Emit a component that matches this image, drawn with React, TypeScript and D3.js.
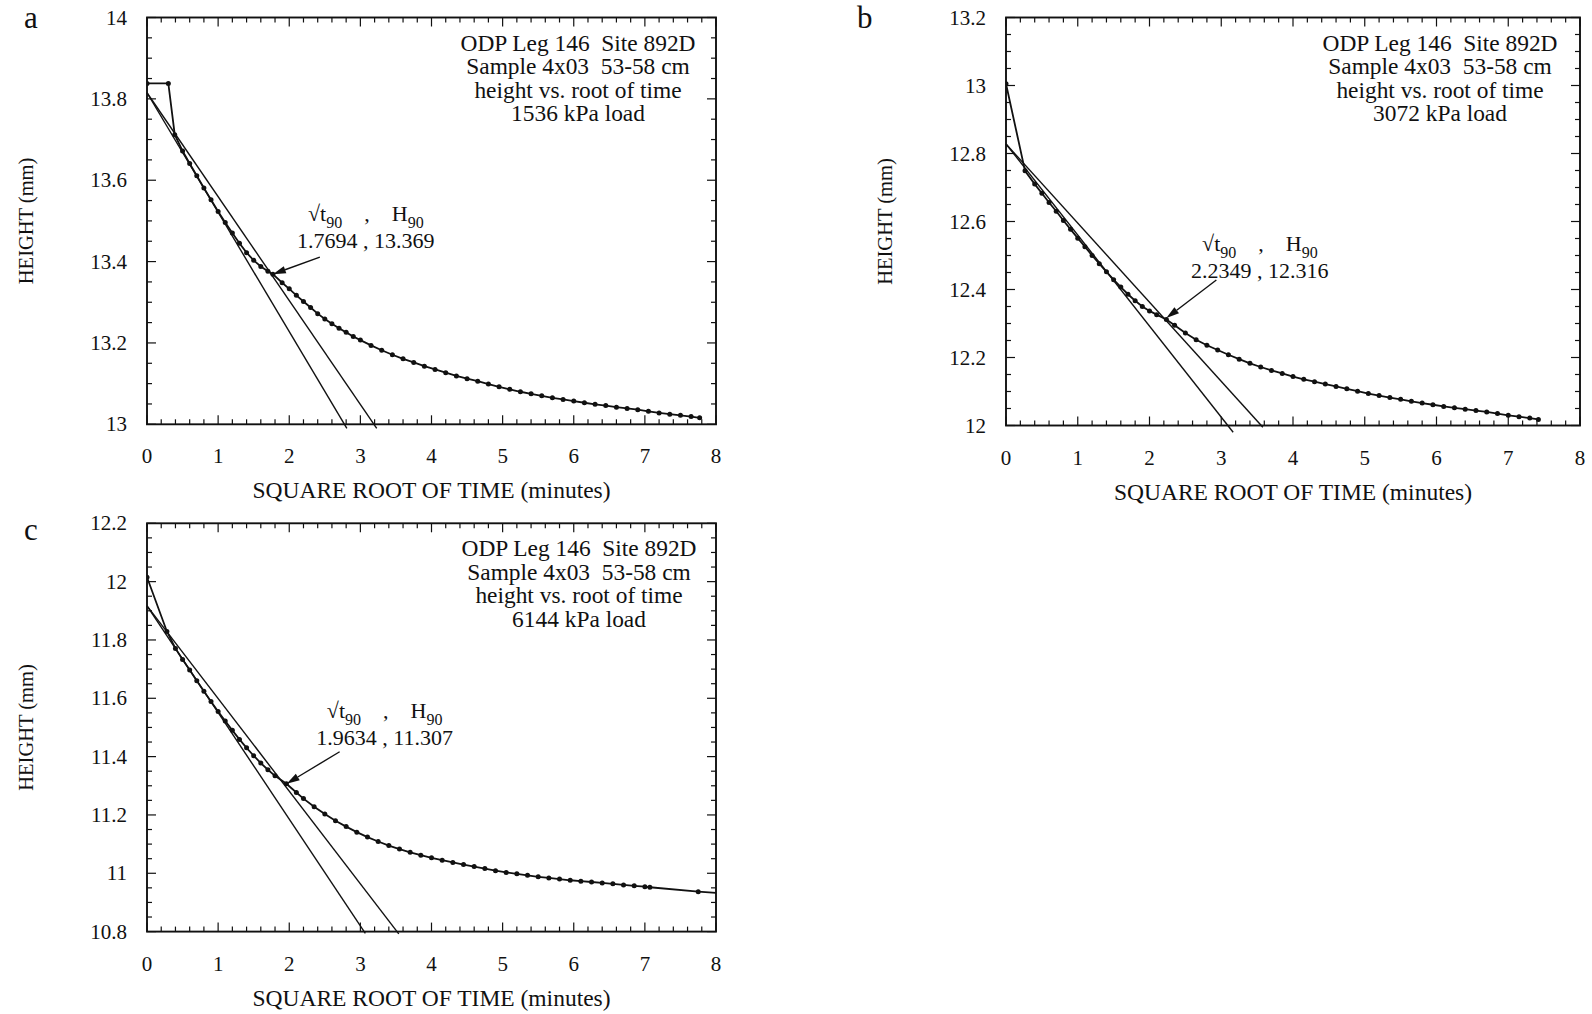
import React from "react";
import * as d3 from "d3";

// ---------- shared axis data ----------
const xTickValues = [0, 1, 2, 3, 4, 5, 6, 7, 8];
const xTickLabels = ["0", "1", "2", "3", "4", "5", "6", "7", "8"];
const infoCommon = ["ODP Leg 146  Site 892D", "Sample 4x03  53-58 cm", "height vs. root of time"];

// ---------- panel a ----------
const aYTickValues = [13, 13.2, 13.4, 13.6, 13.8, 14];
const aYTickLabels = ["13", "13.2", "13.4", "13.6", "13.8", "14"];
const aX = [0, 0.3, 0.39, 0.5, 0.6, 0.7, 0.8, 0.9, 1.0, 1.1, 1.2, 1.3, 1.4, 1.5, 1.6, 1.7, 1.77, 1.9, 2.0, 2.1, 2.2, 2.3, 2.4, 2.5, 2.6, 2.7, 2.8, 2.9, 3.0, 3.15, 3.3, 3.45, 3.6, 3.75, 3.9, 4.05, 4.2, 4.35, 4.5, 4.65, 4.8, 4.95, 5.1, 5.25, 5.4, 5.55, 5.7, 5.85, 6.0, 6.15, 6.3, 6.45, 6.6, 6.75, 6.9, 7.05, 7.2, 7.35, 7.5, 7.65, 7.77];
const aY = [13.838, 13.838, 13.712, 13.672, 13.641, 13.611, 13.581, 13.552, 13.523, 13.496, 13.47, 13.445, 13.422, 13.403, 13.388, 13.376, 13.369, 13.348, 13.333, 13.317, 13.302, 13.287, 13.272, 13.259, 13.247, 13.236, 13.226, 13.216, 13.207, 13.194, 13.182, 13.171, 13.161, 13.152, 13.143, 13.135, 13.127, 13.119, 13.112, 13.106, 13.099, 13.092, 13.086, 13.08, 13.075, 13.07, 13.065, 13.061, 13.057, 13.053, 13.049, 13.046, 13.042, 13.039, 13.036, 13.032, 13.028, 13.025, 13.022, 13.019, 13.016];
const aFit1 = [[0, 13.815], [2.81, 12.99]];
const aFit2 = [[0, 13.815], [3.23, 12.99]];
const aH90 = [1.7694, 13.369];
const aH90Text = "1.7694 , 13.369";
const aInfo = [...infoCommon, "1536 kPa load"];

// ---------- panel b ----------
const bYTickValues = [12, 12.2, 12.4, 12.6, 12.8, 13, 13.2];
const bYTickLabels = ["12", "12.2", "12.4", "12.6", "12.8", "13", "13.2"];
const bX = [0, 0.265, 0.4, 0.5, 0.6, 0.7, 0.8, 0.9, 1.0, 1.1, 1.2, 1.3, 1.4, 1.5, 1.6, 1.7, 1.8, 1.9, 2.0, 2.1, 2.235, 2.35, 2.5, 2.65, 2.8, 2.95, 3.1, 3.25, 3.4, 3.55, 3.7, 3.85, 4.0, 4.15, 4.3, 4.45, 4.6, 4.75, 4.9, 5.05, 5.2, 5.35, 5.5, 5.65, 5.8, 5.95, 6.1, 6.25, 6.4, 6.55, 6.7, 6.85, 7.0, 7.15, 7.3, 7.42];
const bY = [13.005, 12.749, 12.71, 12.683, 12.656, 12.63, 12.603, 12.577, 12.551, 12.526, 12.5, 12.476, 12.452, 12.429, 12.407, 12.386, 12.367, 12.35, 12.337, 12.326, 12.312, 12.295, 12.272, 12.252, 12.236, 12.222, 12.208, 12.195, 12.183, 12.172, 12.162, 12.153, 12.144, 12.136, 12.129, 12.122, 12.115, 12.108, 12.101, 12.094, 12.088, 12.082, 12.077, 12.071, 12.066, 12.061, 12.056, 12.052, 12.048, 12.044, 12.04, 12.035, 12.03, 12.026, 12.022, 12.018];
const bFit1 = [[0, 12.828], [3.166, 11.98]];
const bFit2 = [[0, 12.828], [3.58, 11.995]];
const bH90 = [2.2349, 12.316];
const bH90Text = "2.2349 , 12.316";
const bInfo = [...infoCommon, "3072 kPa load"];

// ---------- panel c ----------
const cYTickValues = [10.8, 11, 11.2, 11.4, 11.6, 11.8, 12, 12.2];
const cYTickLabels = ["10.8", "11", "11.2", "11.4", "11.6", "11.8", "12", "12.2"];
const cX = [0, 0.28, 0.4, 0.5, 0.6, 0.7, 0.8, 0.9, 1.0, 1.1, 1.2, 1.3, 1.4, 1.5, 1.6, 1.7, 1.8, 1.96, 2.1, 2.2, 2.35, 2.5, 2.65, 2.8, 2.95, 3.1, 3.25, 3.4, 3.55, 3.7, 3.85, 4.0, 4.15, 4.3, 4.45, 4.6, 4.75, 4.9, 5.05, 5.2, 5.35, 5.5, 5.65, 5.8, 5.95, 6.1, 6.25, 6.4, 6.55, 6.7, 6.85, 7.0, 7.07, 7.75, 8.2];
const cY = [12.015, 11.829, 11.771, 11.733, 11.697, 11.66, 11.624, 11.589, 11.555, 11.522, 11.49, 11.459, 11.43, 11.403, 11.378, 11.355, 11.334, 11.307, 11.277, 11.256, 11.228, 11.203, 11.18, 11.16, 11.141, 11.124, 11.109, 11.095, 11.083, 11.072, 11.062, 11.053, 11.045, 11.037, 11.03, 11.023, 11.016, 11.009, 11.003, 10.998, 10.993, 10.988, 10.984, 10.98, 10.976, 10.973, 10.97, 10.967, 10.964, 10.96, 10.957, 10.954, 10.952, 10.937, 10.93];
const cFit1 = [[0, 11.917], [3.07, 10.794]];
const cFit2 = [[0, 11.917], [3.54, 10.792]];
const cH90 = [1.9634, 11.307];
const cH90Text = "1.9634 , 11.307";
const cInfo = [...infoCommon, "6144 kPa load"];

const FONT = "'Liberation Serif', 'DejaVu Serif', serif";

type Cfg = {
  id: string;
  letter: string;
  letterX: number;
  letterY: number;
  left: number;
  right: number;
  top: number;
  bottom: number;
  yDomain: [number, number];
  yTickValues: number[];
  yTickLabels: string[];
  xs: number[];
  ys: number[];
  fit1: number[][];
  fit2: number[][];
  h90: number[];
  h90Text: string;
  info: string[];
  infoDx: number;
  labelDx: number;
  labelDy: number;
  tailDx: number;
  tailDy: number;
};

function Panel({ cfg }: { cfg: Cfg }) {
  const x = d3.scaleLinear().domain([0, 8]).range([cfg.left, cfg.right]);
  const y = d3.scaleLinear().domain(cfg.yDomain).range([cfg.bottom, cfg.top]);
  const pts = cfg.xs.map((v, i) => [v, cfg.ys[i]] as [number, number]);
  const line = d3
    .line<[number, number]>()
    .x((d) => x(d[0]))
    .y((d) => y(d[1]));

  const xMinor = d3.range(0, 8.0001, 0.2);
  const yMinor = d3.range(cfg.yDomain[0], cfg.yDomain[1] + 1e-6, 0.05);
  const isXMajor = (v: number) => Math.abs(v - Math.round(v)) < 1e-6;
  const isYMajor = (v: number) => cfg.yTickValues.some((t) => Math.abs(t - v) < 1e-6);
  const MAJ = 9;
  const MIN = 5;

  const tipX = x(cfg.h90[0]);
  const tipY = y(cfg.h90[1]);
  const tailX = tipX + cfg.tailDx;
  const tailY = tipY + cfg.tailDy;
  const ang = Math.atan2(tipY - tailY, tipX - tailX);
  const hl = 13;
  const hw = 3.8;
  const bx = tipX - hl * Math.cos(ang);
  const by = tipY - hl * Math.sin(ang);
  const head = [
    [tipX, tipY],
    [bx + hw * Math.sin(ang), by - hw * Math.cos(ang)],
    [bx - hw * Math.sin(ang), by + hw * Math.cos(ang)],
  ]
    .map((p) => p.join(","))
    .join(" ");

  const lblX = tipX + cfg.labelDx;
  const lbl2Y = tipY + cfg.labelDy;
  const lbl1Y = lbl2Y - 27;
  const midX = (cfg.left + cfg.right) / 2;
  const midY = (cfg.top + cfg.bottom) / 2;
  const infoX = cfg.right + cfg.infoDx;

  return (
    <g fontFamily={FONT} fill="#111">
      <defs>
        <clipPath id={`clip-${cfg.id}`}>
          <rect x={cfg.left} y={cfg.top - 2} width={cfg.right - cfg.left} height={cfg.bottom - cfg.top + 8} />
        </clipPath>
      </defs>
      {/* panel letter */}
      <text x={cfg.letterX} y={cfg.letterY} fontSize={31}>
        {cfg.letter}
      </text>
      {/* ticks */}
      <g stroke="#111" strokeWidth={1.2}>
        {xMinor.map((v, i) => {
          const l = isXMajor(v) ? MAJ : MIN;
          return (
            <g key={"xt" + i}>
              <line x1={x(v)} x2={x(v)} y1={cfg.bottom} y2={cfg.bottom - l} />
              <line x1={x(v)} x2={x(v)} y1={cfg.top} y2={cfg.top + l} />
            </g>
          );
        })}
        {yMinor.map((v, i) => {
          const l = isYMajor(v) ? MAJ : MIN;
          return (
            <g key={"yt" + i}>
              <line x1={cfg.left} x2={cfg.left + l} y1={y(v)} y2={y(v)} />
              <line x1={cfg.right} x2={cfg.right - l} y1={y(v)} y2={y(v)} />
            </g>
          );
        })}
      </g>
      <rect
        x={cfg.left}
        y={cfg.top}
        width={cfg.right - cfg.left}
        height={cfg.bottom - cfg.top}
        fill="none"
        stroke="#111"
        strokeWidth={1.9}
      />
      {/* tick labels */}
      {xTickValues.map((v, i) => (
        <text key={"xl" + i} x={x(v)} y={cfg.bottom + 39} fontSize={21} textAnchor="middle">
          {xTickLabels[i]}
        </text>
      ))}
      {cfg.yTickValues.map((v, i) => (
        <text key={"yl" + i} x={cfg.left - 20} y={y(v)} dy="0.34em" fontSize={21} textAnchor="end">
          {cfg.yTickLabels[i]}
        </text>
      ))}
      {/* axis titles */}
      <text x={midX} y={cfg.bottom + 74} fontSize={23.5} textAnchor="middle">
        SQUARE ROOT OF TIME (minutes)
      </text>
      <text
        transform={`translate(${cfg.left - 114},${midY}) rotate(-90)`}
        fontSize={20.5}
        textAnchor="middle"
      >
        HEIGHT (mm)
      </text>
      {/* fit lines */}
      <g stroke="#111" strokeWidth={1.4} fill="none">
        <path d={line(cfg.fit1 as [number, number][]) || ""} />
        <path d={line(cfg.fit2 as [number, number][]) || ""} />
      </g>
      {/* data */}
      <g clipPath={`url(#clip-${cfg.id})`}>
        <path d={line(pts) || ""} fill="none" stroke="#111" strokeWidth={1.8} />
        {pts.map((p, i) => (
          <circle key={"p" + i} cx={x(p[0])} cy={y(p[1])} r={2.5} fill="#111" />
        ))}
      </g>
      {/* H90 annotation */}
      <line x1={tailX} y1={tailY} x2={bx} y2={by} stroke="#111" strokeWidth={1.4} />
      <polygon points={head} fill="#111" />
      <text x={lblX} y={lbl1Y} fontSize={22} textAnchor="middle" style={{ whiteSpace: "pre" }}>
        √t
        <tspan fontSize={16} dy={7}>
          90
        </tspan>
        <tspan dy={-7}>{"    ,    "}</tspan>H
        <tspan fontSize={16} dy={7}>
          90
        </tspan>
      </text>
      <text x={lblX} y={lbl2Y} fontSize={22} textAnchor="middle" style={{ whiteSpace: "pre" }}>
        {cfg.h90Text}
      </text>
      {/* info block */}
      {cfg.info.map((s, i) => (
        <text
          key={"inf" + i}
          x={infoX}
          y={cfg.top + 33 + i * 23.5}
          fontSize={23.4}
          textAnchor="middle"
          style={{ whiteSpace: "pre" }}
        >
          {s}
        </text>
      ))}
    </g>
  );
}

const panels: Cfg[] = [
  {
    id: "a",
    letter: "a",
    letterX: 24,
    letterY: 28,
    left: 147,
    right: 716,
    top: 17.5,
    bottom: 424.3,
    yDomain: [13, 14],
    yTickValues: aYTickValues,
    yTickLabels: aYTickLabels,
    xs: aX,
    ys: aY,
    fit1: aFit1,
    fit2: aFit2,
    h90: aH90,
    h90Text: aH90Text,
    info: aInfo,
    infoDx: -138,
    labelDx: 93,
    labelDy: -25.7,
    tailDx: 47,
    tailDy: -17,
  },
  {
    id: "b",
    letter: "b",
    letterX: 857,
    letterY: 28,
    left: 1006,
    right: 1580,
    top: 17.5,
    bottom: 425.5,
    yDomain: [12, 13.2],
    yTickValues: bYTickValues,
    yTickLabels: bYTickLabels,
    xs: bX,
    ys: bY,
    fit1: bFit1,
    fit2: bFit2,
    h90: bH90,
    h90Text: bH90Text,
    info: bInfo,
    infoDx: -140,
    labelDx: 93.5,
    labelDy: -40,
    tailDx: 50,
    tailDy: -38,
  },
  {
    id: "c",
    letter: "c",
    letterX: 24,
    letterY: 540,
    left: 147,
    right: 716,
    top: 523.3,
    bottom: 931.6,
    yDomain: [10.8, 12.2],
    yTickValues: cYTickValues,
    yTickLabels: cYTickLabels,
    xs: cX,
    ys: cY,
    fit1: cFit1,
    fit2: cFit2,
    h90: cH90,
    h90Text: cH90Text,
    info: cInfo,
    infoDx: -137,
    labelDx: 98,
    labelDy: -38.8,
    tailDx: 53,
    tailDy: -32,
  },
];

export default function App() {
  return (
    <svg
      width={1592}
      height={1014}
      style={{ position: "absolute", left: 0, top: 0, background: "#fff" }}
    >
      <rect x={0} y={0} width={1592} height={1014} fill="#fff" />
      {panels.map((p) => (
        <Panel key={p.id} cfg={p} />
      ))}
    </svg>
  );
}
